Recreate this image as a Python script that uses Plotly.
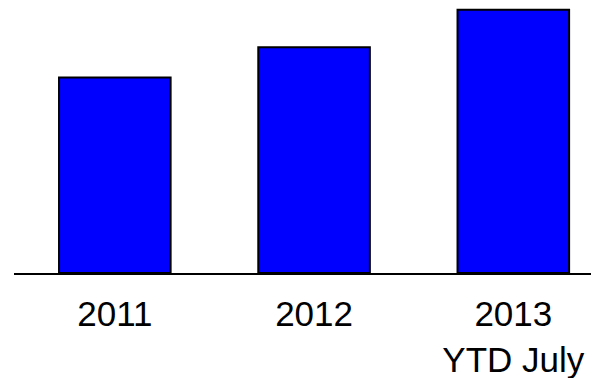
import plotly.graph_objects as go

categories = ["2011", "2012", "2013<br>YTD July"]
values = [52, 60, 70]

fig = go.Figure()
fig.add_trace(go.Bar(
    x=[0, 1, 2],
    y=values,
    width=0.56,
    marker=dict(color="#0000FF", line=dict(color="#000000", width=2)),
))

# the page body has an 8px margin, so the figure is sized to fit the window
fig.update_layout(
    width=591, height=370,
    margin=dict(l=6, r=0, t=0, b=105, autoexpand=False),
    paper_bgcolor="white", plot_bgcolor="white",
    showlegend=False,
    font=dict(family="Liberation Sans, Arial, sans-serif", size=35, color="black"),
    xaxis=dict(
        range=[-0.506, 2.430], automargin=False,
        tickvals=[0, 1, 2], ticktext=categories,
        showgrid=False, zeroline=False,
        showline=True, linecolor="#000000", linewidth=2,
        ticks="outside", ticklen=9, tickcolor="rgba(0,0,0,0)",
        tickfont=dict(size=35, color="black"),
    ),
    yaxis=dict(
        range=[0, 70.45], visible=False, showgrid=False, zeroline=False,
        automargin=False,
    ),
)

fig.write_html("out.html")
